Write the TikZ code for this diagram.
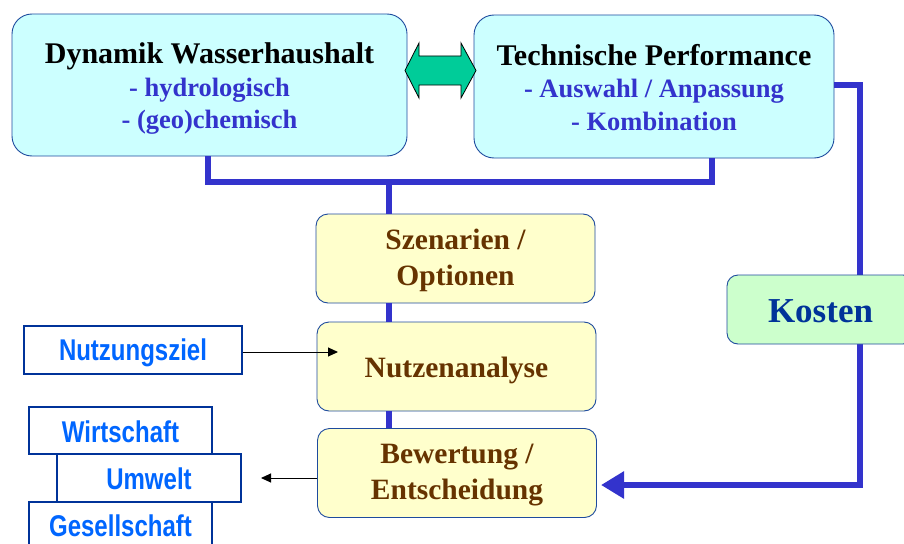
\documentclass[tikz,border=0pt]{standalone}
\usepackage{fontspec}
\setmainfont{Liberation Serif}
\newfontfamily\narrowsans[FakeStretch=0.8]{Liberation Sans}
\usetikzlibrary{arrows.meta,calc}
\definecolor{cyanfill}{HTML}{CCFFFF}
\definecolor{boxborder}{HTML}{1E4B9E}
\definecolor{subblue}{HTML}{3333CC}
\definecolor{linkblue}{HTML}{3333CC}
\definecolor{yellowfill}{HTML}{FFFFCC}
\definecolor{browntext}{HTML}{663300}
\definecolor{greenfill}{HTML}{CCFFCC}
\definecolor{kostentext}{HTML}{003399}
\definecolor{sansblue}{HTML}{0066FF}
\definecolor{sansborder}{HTML}{003399}
\definecolor{arrowgreen}{HTML}{00CC99}
\begin{document}
\begin{tikzpicture}[x=1pt,y=-1pt,
  topbox/.style={draw=boxborder, line width=0.9pt, fill=cyanfill, rounded corners=20pt, inner sep=0pt},
  toptext/.style={inner sep=0pt, align=center, font=\bfseries\fontsize{26.5}{32.5}\selectfont, text=subblue},
  yellowbox/.style={draw=boxborder, line width=0.9pt, fill=yellowfill, rounded corners=12pt,
    minimum width=279pt, minimum height=89pt, inner sep=0pt},
  yellowtext/.style={inner sep=0pt, align=center,
    font=\bfseries\fontsize{29.5}{35.5}\selectfont, text=browntext},
  greenbox/.style={draw=boxborder, line width=0.9pt, fill=greenfill, rounded corners=11pt, inner sep=0pt},
  greentext/.style={inner sep=0pt, font=\bfseries\fontsize{35}{40}\selectfont, text=kostentext},
  sansbox/.style={draw=sansborder, line width=1.1pt, fill=white, inner sep=0pt},
  sanstext/.style={inner sep=0pt, font=\narrowsans\bfseries\fontsize{30}{34}\selectfont, text=sansblue},
  link/.style={draw=linkblue, line width=6.5pt},
  thinarrow/.style={draw=black, line width=1pt, -{Triangle[length=10pt,width=9pt]}}
]
\useasboundingbox (0,0) rectangle (904,543);

% top boxes
\node[topbox, minimum width=395pt, minimum height=142pt] (b1) at (209.5,85) {};
\node[toptext] (b1t) at ($(b1.center)+(0,4)$)
  {\textcolor{black}{\fontsize{30}{32.5}\selectfont Dynamik Wasserhaushalt}\\ - hydrologisch\\ - (geo)chemisch};
\node[topbox, minimum width=360pt, minimum height=143pt] (b2) at (654,86.5) {};
\node[toptext] (b2t) at ($(b2.center)+(0,1)$)
  {\textcolor{black}{\fontsize{30}{32.5}\selectfont Technische Performance}\\ - Auswahl / Anpassung\\ - Kombination};

% green double arrow
\filldraw[fill=arrowgreen, draw=black, line width=0.8pt]
  (405,70.5) -- (419,43) -- (419,56) -- (461,56) -- (461,43) -- (476,70.5)
  -- (461,98) -- (461,85) -- (419,85) -- (419,98) -- cycle;

% yellow boxes
\node[yellowbox] (sz) at (455.5,258.5) {};
\node[yellowtext] (szt) at ($(sz.center)+(0,2)$) {Szenarien /\\ Optionen};
\node[yellowbox] (nu) at (456.5,366.5) {};
\node[yellowtext] (nut) at ($(nu.center)+(0,4)$) {Nutzenanalyse};
\node[yellowbox] (be) at (457,473) {};
\node[yellowtext] (bet) at ($(be.center)+(0,2)$) {Bewertung /\\ Entscheidung};

% connectors top
\coordinate (j1) at (208,182);
\coordinate (j2) at (712,182);
\coordinate (jx) at (389,182);
\draw[link] (j1 |- b1.south) -- (j1) -- (j2) -- (j2 |- b2.south);
\draw[link] (jx) -- (jx |- sz.north);
\draw[link] (jx |- sz.south) -- (jx |- nu.north);
\draw[link] (jx |- nu.south) -- (jx |- be.north);

% Kosten line
\coordinate (kx) at (860,85);
\coordinate (kend) at (601,485);
\draw[link, -{Triangle[length=23pt,width=26pt]}] (b2.east |- kx) -- (kx) -- (kx |- kend) -- (kend);
\node[greenbox, minimum width=187pt, minimum height=69pt] (ko) at (820.5,309.5) {};
\node[greentext] (kot) at ($(ko.center)+(0,2)$) {Kosten};

% left side boxes
\node[sansbox, minimum width=218pt, minimum height=48pt] (nz) at (133,350) {};
\node[sanstext] (nzt) at ($(nz.center)+(0,3)$) {Nutzungsziel};
\node[sansbox, minimum width=183pt, minimum height=47pt] (wi) at (120.5,430.5) {};
\node[sanstext] (wit) at ($(wi.center)+(0,1)$) {Wirtschaft};
\node[sansbox, minimum width=184pt, minimum height=48pt] (um) at (149,478) {};
\node[sanstext] (umt) at ($(um.center)+(0,1)$) {Umwelt};
\node[sansbox, minimum width=183pt, minimum height=48pt] (ge) at (120.5,526) {};
\node[sanstext] (get) at ($(ge.center)+(0,0)$) {Gesellschaft};

% thin arrows
\coordinate (nzend) at (338,352);
\draw[thinarrow] (nz.east |- nzend) -- (nzend);
\coordinate (beend) at (261,478);
\draw[thinarrow] (be.west |- beend) -- (beend);
\end{tikzpicture}
\end{document}
